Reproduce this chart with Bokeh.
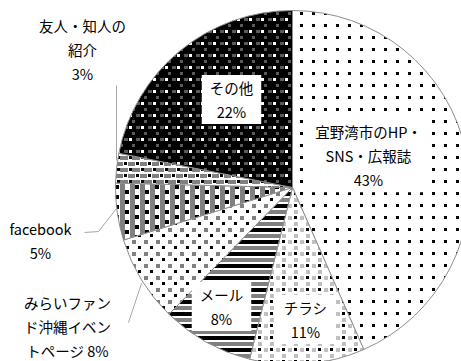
import zlib, struct, base64
import numpy as np
from bokeh.plotting import figure
from bokeh.models import ColumnDataSource, ImageURLTexture, Label, Range1d
from bokeh.embed import file_html
from bokeh.resources import INLINE

# ---- data ----
categories = ["宜野湾市のHP・SNS・広報誌", "チラシ", "メール",
              "みらいファンド沖縄イベントページ", "facebook", "友人・知人の紹介", "その他"]
shares = [43.4, 10.5, 8.4, 7.9, 5.2, 2.7, 21.9]
pct_labels = ["43%", "11%", "8%", "8%", "5%", "3%", "22%"]
label_texts = ["宜野湾市のHP・\nSNS・広報誌\n43%", "チラシ\n11%", "メール\n8%",
               "みらいファン\nド沖縄イベン\nトページ 8%", "facebook\n5%",
               "友人・知人の\n紹介\n3%", "その他\n22%"]

# ---- pattern tiles ----
CMAP = {".": (255, 255, 255), "w": (255, 255, 255), "k": (0, 0, 0), "g": (128, 128, 128),
        "d": (90, 90, 90), "l": (192, 192, 192)}

def png_url(rows):
    h = len(rows); w = len(rows[0])
    raw = b"".join(b"\x00" + bytes([v for c in r for v in CMAP[c]]) for r in rows)
    def chunk(t, d):
        return struct.pack(">I", len(d)) + t + d + struct.pack(">I", zlib.crc32(t + d) & 0xffffffff)
    data = (b"\x89PNG\r\n\x1a\n" + chunk(b"IHDR", struct.pack(">IIBBBBB", w, h, 8, 2, 0, 0, 0))
            + chunk(b"IDAT", zlib.compress(raw)) + chunk(b"IEND", b""))
    return "data:image/png;base64," + base64.b64encode(data).decode()

tiles = {
    "p_hp": ["kkk........."] * 3 + ["............"] * 9,
    "p_flyer": ["llll..kkk..."] * 3 + ["llll........"] + ["............"] * 2
               + ["......llll.."] * 4 + ["............"] * 2,
    "p_mail": ["kkkk"] * 4 + ["...."] * 2 + ["gggg"] * 4 + ["...."] * 2,
    "p_mirai": ["gggg........"] * 4 + ["............"] * 2
               + ["......kkk..."] * 3 + ["............"] * 3,
    "p_fb": ["gggggkkkk.ggggg....."] * 4 + ["ggggg.....ggggg....."]
            + ["ggggg.....gggggkkkk."] * 4 + ["ggggg.....ggggg....."],
    "p_friend": ["gggggggg.kkk"] * 3 + ["gggggggg...."] + ["............"] * 2
                + ["ggg.kkk.gggg"] * 3 + ["ggg.....gggg"] + ["............"] * 2,
    "p_other": ["dddkkkkkkkkk"] * 3 + ["kkkkkkkkkkkk"] * 3
               + ["kkkkddddkwww"] * 3 + ["kkkkkkkkkkkk"] * 3,
}
textures = {k: ImageURLTexture(url=png_url(v), repetition="repeat") for k, v in tiles.items()}
patterns = ["p_hp", "p_flyer", "p_mail", "p_mirai", "p_fb", "p_friend", "p_other"]

vals = np.array(shares, dtype=float)
cum = np.concatenate([[0.0], np.cumsum(vals)]) / vals.sum()
start = np.pi / 2 - 2 * np.pi * cum[:-1]
end = np.pi / 2 - 2 * np.pi * cum[1:]

src = ColumnDataSource(dict(cat=categories, share=shares, start=start, end=end, pat=patterns))

W, H = 461, 361
cx, cy, R = 292, H - 187, 177

p = figure(width=W, height=H, x_range=Range1d(0, W), y_range=Range1d(0, H),
           output_backend="svg", toolbar_location=None,
           x_axis_location=None, y_axis_location=None, min_border=0)
p.grid.visible = False
p.outline_line_color = None
p.background_fill_color = "white"

p.wedge(x=cx, y=cy, radius=R, start_angle="start", end_angle="end", direction="clock",
        source=src, fill_color="white", line_color="#8c8c8c", line_width=1,
        hatch_pattern="pat", hatch_extra=textures)

# leader lines
p.multi_line(xs=[[116, 116], [84, 98, 116], [128, 141]],
             ys=[[H - 85, H - 160], [H - 232, H - 231, H - 208], [H - 322, H - 283]],
             line_color="#a6a6a6", line_width=1)

# label positions (pixel centres)
lab_pos = [(368, 155), (305, 319), (221, 306), (67, 326), (40, 240), (82, 49), (231, 99)]
inside = [True, True, True, False, False, False, True]
font = "Noto Sans CJK JP"
for t, (lx, ly), ins in zip(label_texts, lab_pos, inside):
    kw = dict(x=lx, y=H - ly, text=t, text_align="center", text_baseline="middle",
              text_font=font, text_font_size="14.5px", text_color="#000000",
              text_line_height=1.15)
    if ins:
        kw.update(background_fill_color="white",
                  padding=dict(left=8, right=8, top=2, bottom=2))
    p.add_layout(Label(**kw))

open("out.html", "w").write(file_html(p, INLINE))
